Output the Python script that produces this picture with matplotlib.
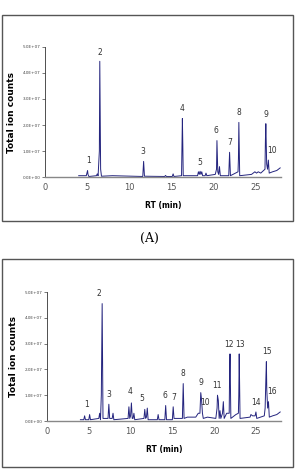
import matplotlib.pyplot as plt
from matplotlib.patches import Rectangle
from matplotlib.ticker import FuncFormatter

# Chromatogram (A): retention time (min) vs total ion counts, peak vertices
rt_a = [4.0, 4.9, 5.05, 5.1, 5.2, 6.1, 6.2, 6.3, 6.45, 6.5, 6.6, 6.7, 8.0, 11.6,
        11.7, 11.8, 14.2, 14.3, 14.4, 15.1, 15.2, 15.3, 16.2, 16.3, 16.35, 16.4,
        18.1, 18.2, 18.3, 18.4, 18.5, 18.6, 18.7, 19.0, 19.1, 19.2, 20.2, 20.35,
        20.4, 20.5, 20.6, 20.7, 20.8, 21.8, 21.9, 22.0, 22.9, 22.95, 23.0, 23.1,
        24.5, 24.9, 25.1, 25.3, 25.6, 26.1, 26.15, 26.2, 26.3, 26.4, 26.5, 26.6,
        27.0, 27.5, 27.9]
tic_a = [0.05, 0.05, 0.25, 0.1, 0.02, 0.05, 0.12, 0.05, 1.0, 4.45, 0.3, 0.03, 0.05,
         0.02, 0.6, 0.03, 0.02, 0.06, 0.02, 0.02, 0.12, 0.02, 0.05, 2.25, 1.25,
         0.05, 0.05, 0.2, 0.1, 0.22, 0.1, 0.2, 0.05, 0.05, 0.15, 0.05, 0.1, 0.3,
         1.4, 0.2, 0.1, 0.4, 0.05, 0.05, 0.95, 0.05, 0.2, 0.7, 2.1, 0.05, 0.1,
         0.2, 0.15, 0.2, 0.15, 0.3, 1.4, 2.05, 0.5, 0.3, 0.65, 0.15, 0.2, 0.25,
         0.35]
labels_a = ["1", "2", "3", "4", "5", "6", "7", "8", "9", "10"]
label_rt_a = [5.2, 6.5, 11.6, 16.3, 18.4, 20.3, 21.9, 23.0, 26.2, 26.9]
label_y_a = [0.45, 4.6, 0.8, 2.45, 0.4, 1.6, 1.15, 2.3, 2.25, 0.85]

# Chromatogram (B)
rt_b = [4.0, 4.4, 4.5, 4.6, 5.0, 5.1, 5.2, 6.2, 6.3, 6.4, 6.5, 6.6, 6.7, 7.3, 7.4,
        7.5, 7.8, 7.9, 8.0, 9.7, 9.8, 9.9, 10.0, 10.1, 10.2, 10.3, 10.4, 10.5,
        11.6, 11.7, 11.8, 11.9, 12.0, 12.1, 13.2, 13.3, 13.4, 14.1, 14.2, 14.3,
        15.0, 15.1, 15.2, 16.2, 16.3, 16.4, 16.8, 17.8, 18.1, 18.3, 18.4, 18.5,
        18.6, 18.7, 19.2, 20.2, 20.35, 20.4, 20.5, 20.6, 20.7, 20.8, 21.0, 21.1,
        21.2, 21.5, 21.8, 21.85, 21.9, 22.0, 22.6, 22.9, 22.95, 23.0, 23.1, 24.3,
        24.4, 24.6, 24.9, 25.0, 25.1, 26.0, 26.1, 26.2, 26.25, 26.3, 26.4, 26.5,
        26.6, 27.0, 27.5, 27.9]
tic_b = [0.05, 0.05, 0.2, 0.05, 0.05, 0.25, 0.05, 0.1, 0.3, 0.05, 1.0, 4.55, 0.1,
         0.1, 0.65, 0.1, 0.1, 0.3, 0.05, 0.1, 0.55, 0.1, 0.2, 0.7, 0.1, 0.1, 0.3,
         0.05, 0.1, 0.45, 0.1, 0.15, 0.5, 0.05, 0.05, 0.25, 0.05, 0.05, 0.6, 0.05,
         0.05, 0.55, 0.1, 0.1, 1.45, 0.1, 0.15, 0.15, 0.3, 0.3, 1.1, 0.8, 0.3, 0.1,
         0.15, 0.1, 0.5, 1.0, 0.8, 0.1, 0.4, 0.1, 0.3, 0.75, 0.1, 0.3, 0.3, 1.8,
         2.6, 0.1, 0.25, 0.3, 1.0, 2.6, 0.1, 0.15, 0.25, 0.2, 0.2, 0.35, 0.1, 0.2,
         0.5, 1.75, 2.3, 1.2, 0.5, 0.75, 0.15, 0.2, 0.25, 0.35]
labels_b = ["1", "2", "3", "4", "5", "6", "7", "8", "9", "10", "11", "12", "13",
            "14", "15", "16"]
label_rt_b = [4.7, 6.2, 7.4, 9.9, 11.4, 14.1, 15.2, 16.3, 18.4, 18.9, 20.3, 21.8,
              23.1, 25.0, 26.3, 26.9]
label_y_b = [0.45, 4.75, 0.85, 0.95, 0.7, 0.8, 0.75, 1.65, 1.3, 0.55, 1.2, 2.8,
             2.8, 0.55, 2.5, 0.95]

line_color = "#24247e"
fig = plt.figure(figsize=(2.99, 4.73), dpi=100)

# outer frames
for y0, h in [(252, 206), (6, 208)]:
    fig.patches.append(Rectangle((2 / 299, y0 / 473), 291 / 299, h / 473,
                                 transform=fig.transFigure, fill=False,
                                 edgecolor="#555555", linewidth=1.0))

fig.text(0.5, 1 - 238 / 473, "(A)", ha="center", va="center",
         fontsize=9, family="DejaVu Serif")

panels = [
    ([45 / 299, 296 / 473, 236 / 299, 130 / 473], rt_a, tic_a, labels_a,
     label_rt_a, label_y_a),
    ([47 / 299, 52 / 473, 234 / 299, 129 / 473], rt_b, tic_b, labels_b,
     label_rt_b, label_y_b),
]

for rect, rt, tic, labs, lx, ly in panels:
    ax = fig.add_axes(rect)
    ax.plot(rt, [v * 1e7 for v in tic], color=line_color, linewidth=0.7)
    for lab, x, y in zip(labs, lx, ly):
        ax.text(x, y * 1e7, lab, ha="center", va="bottom", fontsize=5.5,
                color="#333333")
    ax.set_xlim(0, 28)
    ax.set_ylim(0, 5e7)
    ax.set_xticks([0, 5, 10, 15, 20, 25])
    ax.set_yticks([0, 1e7, 2e7, 3e7, 4e7, 5e7])
    ax.yaxis.set_major_formatter(FuncFormatter(lambda v, p: ("%.1E" % v)))
    ax.tick_params(axis="y", labelsize=3, length=2, width=0.5, pad=1,
                   colors="#444444")
    ax.tick_params(axis="x", labelsize=6, length=0, pad=4.5, colors="#555555")
    for s in ["top", "right"]:
        ax.spines[s].set_visible(False)
    ax.spines["left"].set_color("#333333")
    ax.spines["left"].set_linewidth(0.6)
    ax.spines["bottom"].set_color("#888888")
    ax.spines["bottom"].set_linewidth(1.0)
    ax.set_xlabel("RT (min)", fontsize=5.5, fontweight="bold", labelpad=6)
    ax.set_ylabel("Total ion counts", fontsize=6.5, fontweight="bold", labelpad=5)

fig.savefig("out.png", dpi=100)
